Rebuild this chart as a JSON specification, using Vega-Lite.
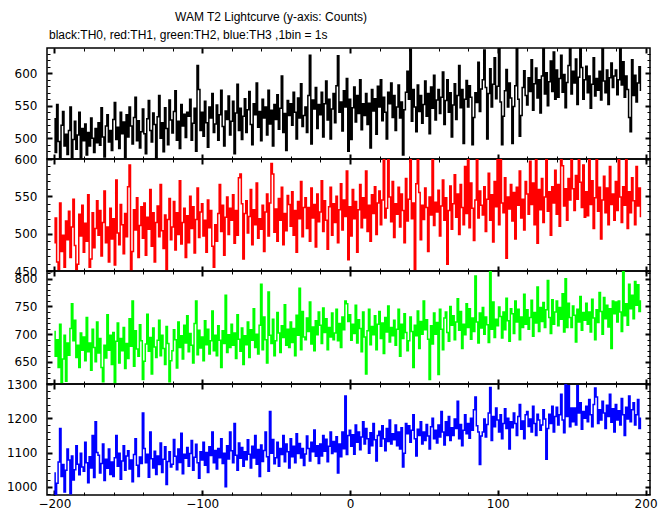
{
"$schema":"https://vega.github.io/schema/vega-lite/v6.json",
"background":"white",
"padding":{"left":5,"right":5,"top":11,"bottom":5},
"title":{"text":"WAM T2 Lightcurve (y-axis: Counts)","anchor":"start","frame":"group","dx":128,"offset":4,"font":"Liberation Sans","fontSize":12,"fontWeight":"normal","color":"black"},
"datasets":{"lc":[
{"t":-200,"a":530,"b":488,"c":705,"d":1040},{"t":-199,"a":478,"b":521,"c":660,"d":978},{"t":-198,"a":552,"b":462,"c":690,"d":1010},{"t":-197,"a":495,"b":452,"c":640,"d":1072},{"t":-196,"a":470,"b":541,"c":718,"d":1170},{"t":-195,"a":520,"b":476,"c":612,"d":1030},{"t":-194,"a":541,"b":498,"c":655,"d":1065},{"t":-193,"a":488,"b":455,"c":698,"d":985},{"t":-192,"a":506,"b":517,"c":615,"d":1048},{"t":-191,"a":475,"b":492,"c":684,"d":1110},
{"t":-190,"a":512,"b":530,"c":662,"d":1078},{"t":-189,"a":548,"b":468,"c":710,"d":980},{"t":-188,"a":470,"b":509,"c":755,"d":1090},{"t":-187,"a":498,"b":546,"c":688,"d":1020},{"t":-186,"a":526,"b":484,"c":725,"d":1050},{"t":-185,"a":483,"b":452,"c":658,"d":1120},{"t":-184,"a":505,"b":459,"c":680,"d":1066},{"t":-183,"a":540,"b":526,"c":640,"d":1035},{"t":-182,"a":467,"b":497,"c":702,"d":1098},{"t":-181,"a":515,"b":538,"c":671,"d":1058},
{"t":-180,"a":496,"b":475,"c":695,"d":1045},{"t":-179,"a":522,"b":514,"c":652,"d":1130},{"t":-178,"a":474,"b":490,"c":730,"d":1070},{"t":-177,"a":509,"b":552,"c":668,"d":1012},{"t":-176,"a":488,"b":455,"c":684,"d":1088},{"t":-175,"a":531,"b":466,"c":635,"d":1055},{"t":-174,"a":500,"b":528,"c":709,"d":1150},{"t":-173,"a":478,"b":481,"c":676,"d":1027},{"t":-172,"a":515,"b":507,"c":650,"d":1190},{"t":-171,"a":493,"b":544,"c":722,"d":1100},
{"t":-170,"a":524,"b":498,"c":666,"d":1092},{"t":-169,"a":489,"b":531,"c":692,"d":1040},{"t":-168,"a":547,"b":470,"c":640,"d":1068},{"t":-167,"a":502,"b":515,"c":614,"d":1125},{"t":-166,"a":471,"b":557,"c":680,"d":1018},{"t":-165,"a":519,"b":488,"c":657,"d":1080},{"t":-164,"a":536,"b":509,"c":735,"d":1054},{"t":-163,"a":494,"b":462,"c":671,"d":1110},{"t":-162,"a":512,"b":534,"c":698,"d":1036},{"t":-161,"a":481,"b":493,"c":645,"d":1072},
{"t":-160,"a":529,"b":520,"c":703,"d":1030},{"t":-159,"a":555,"b":458,"c":612,"d":1085},{"t":-158,"a":498,"b":572,"c":687,"d":1150},{"t":-157,"a":517,"b":501,"c":720,"d":1060},{"t":-156,"a":484,"b":485,"c":648,"d":1098},{"t":-155,"a":540,"b":539,"c":692,"d":1022},{"t":-154,"a":507,"b":512,"c":670,"d":1075},{"t":-153,"a":525,"b":473,"c":712,"d":1120},{"t":-152,"a":470,"b":527,"c":638,"d":1048},{"t":-151,"a":536,"b":496,"c":683,"d":1090},
{"t":-150,"a":502,"b":563,"c":656,"d":1105},{"t":-149,"a":548,"b":592,"c":728,"d":1052},{"t":-148,"a":519,"b":451,"c":678,"d":1078},{"t":-147,"a":491,"b":476,"c":760,"d":1015},{"t":-146,"a":532,"b":532,"c":642,"d":1094},{"t":-145,"a":563,"b":505,"c":706,"d":1140},{"t":-144,"a":496,"b":548,"c":673,"d":1063},{"t":-143,"a":527,"b":468,"c":660,"d":1030},{"t":-142,"a":485,"b":511,"c":717,"d":1087},{"t":-141,"a":510,"b":536,"c":688,"d":1068},
{"t":-140,"a":545,"b":494,"c":618,"d":1215},{"t":-139,"a":507,"b":541,"c":651,"d":1112},{"t":-138,"a":476,"b":471,"c":682,"d":1070},{"t":-137,"a":530,"b":522,"c":736,"d":1095},{"t":-136,"a":558,"b":506,"c":669,"d":1028},{"t":-135,"a":512,"b":559,"c":694,"d":1160},{"t":-134,"a":494,"b":483,"c":628,"d":1082},{"t":-133,"a":539,"b":528,"c":711,"d":1055},{"t":-132,"a":521,"b":462,"c":677,"d":1104},{"t":-131,"a":468,"b":515,"c":658,"d":1036},
{"t":-130,"a":533,"b":537,"c":689,"d":1090},{"t":-129,"a":566,"b":496,"c":725,"d":1065},{"t":-128,"a":500,"b":566,"c":661,"d":1128},{"t":-127,"a":524,"b":504,"c":698,"d":1042},{"t":-126,"a":479,"b":480,"c":674,"d":1080},{"t":-125,"a":547,"b":525,"c":645,"d":1117},{"t":-124,"a":515,"b":452,"c":714,"d":1007},{"t":-123,"a":490,"b":519,"c":683,"d":1074},{"t":-122,"a":559,"b":547,"c":614,"d":1102},{"t":-121,"a":528,"b":492,"c":652,"d":1058},
{"t":-120,"a":508,"b":509,"c":670,"d":1066},{"t":-119,"a":541,"b":543,"c":708,"d":1138},{"t":-118,"a":573,"b":478,"c":690,"d":1089},{"t":-117,"a":497,"b":528,"c":639,"d":1050},{"t":-116,"a":526,"b":499,"c":722,"d":1110},{"t":-115,"a":484,"b":571,"c":676,"d":1071},{"t":-114,"a":552,"b":486,"c":697,"d":1156},{"t":-113,"a":519,"b":515,"c":655,"d":1038},{"t":-112,"a":537,"b":534,"c":716,"d":1095},{"t":-111,"a":501,"b":468,"c":684,"d":1083},
{"t":-110,"a":540,"b":524,"c":733,"d":1115},{"t":-109,"a":534,"b":488,"c":668,"d":1060},{"t":-108,"a":560,"b":550,"c":701,"d":1097},{"t":-107,"a":497,"b":507,"c":680,"d":1135},{"t":-106,"a":523,"b":536,"c":648,"d":1048},{"t":-105,"a":546,"b":474,"c":719,"d":1086},{"t":-104,"a":480,"b":519,"c":760,"d":1124},{"t":-103,"a":612,"b":561,"c":663,"d":1070},{"t":-102,"a":575,"b":495,"c":707,"d":1025},{"t":-101,"a":512,"b":529,"c":675,"d":1102},
{"t":-100,"a":540,"b":540,"c":695,"d":1078},{"t":-99,"a":503,"b":497,"c":652,"d":1130},{"t":-98,"a":557,"b":518,"c":724,"d":1063},{"t":-97,"a":524,"b":475,"c":681,"d":1100},{"t":-96,"a":486,"b":545,"c":709,"d":1042},{"t":-95,"a":548,"b":508,"c":664,"d":1117},{"t":-94,"a":531,"b":531,"c":688,"d":1091},{"t":-93,"a":569,"b":483,"c":742,"d":1160},{"t":-92,"a":509,"b":455,"c":670,"d":1070},{"t":-91,"a":522,"b":512,"c":698,"d":1106},
{"t":-90,"a":551,"b":490,"c":661,"d":1052},{"t":-89,"a":497,"b":527,"c":715,"d":1112},{"t":-88,"a":536,"b":566,"c":689,"d":1085},{"t":-87,"a":574,"b":503,"c":640,"d":1140},{"t":-86,"a":518,"b":538,"c":706,"d":1068},{"t":-85,"a":488,"b":471,"c":683,"d":1098},{"t":-84,"a":542,"b":522,"c":770,"d":1000},{"t":-83,"a":529,"b":549,"c":667,"d":1120},{"t":-82,"a":565,"b":499,"c":699,"d":1081},{"t":-81,"a":505,"b":534,"c":676,"d":1160},
{"t":-80,"a":526,"b":518,"c":718,"d":1105},{"t":-79,"a":557,"b":552,"c":680,"d":1070},{"t":-78,"a":476,"b":487,"c":702,"d":1185},{"t":-77,"a":539,"b":531,"c":656,"d":1092},{"t":-76,"a":583,"b":498,"c":735,"d":1048},{"t":-75,"a":512,"b":575,"c":691,"d":1128},{"t":-74,"a":546,"b":580,"c":669,"d":1083},{"t":-73,"a":498,"b":540,"c":711,"d":1115},{"t":-72,"a":534,"b":466,"c":645,"d":1060},{"t":-71,"a":561,"b":527,"c":697,"d":1102},
{"t":-70,"a":509,"b":544,"c":681,"d":1079},{"t":-69,"a":544,"b":501,"c":722,"d":1137},{"t":-68,"a":572,"b":523,"c":658,"d":1095},{"t":-67,"a":521,"b":559,"c":708,"d":1055},{"t":-66,"a":490,"b":485,"c":689,"d":1118},{"t":-65,"a":553,"b":532,"c":746,"d":1084},{"t":-64,"a":536,"b":512,"c":676,"d":1150},{"t":-63,"a":585,"b":568,"c":700,"d":1066},{"t":-62,"a":517,"b":494,"c":664,"d":1109},{"t":-61,"a":541,"b":520,"c":716,"d":1030},
{"t":-60,"a":496,"b":506,"c":790,"d":1122},{"t":-59,"a":560,"b":538,"c":672,"d":1074},{"t":-58,"a":531,"b":476,"c":731,"d":1106},{"t":-57,"a":548,"b":529,"c":690,"d":1160},{"t":-56,"a":505,"b":553,"c":648,"d":1088},{"t":-55,"a":574,"b":497,"c":776,"d":1045},{"t":-54,"a":522,"b":541,"c":698,"d":1220},{"t":-53,"a":543,"b":594,"c":683,"d":1098},{"t":-52,"a":488,"b":580,"c":727,"d":1138},{"t":-51,"a":552,"b":502,"c":661,"d":1067},
{"t":-50,"a":529,"b":533,"c":688,"d":1085},{"t":-49,"a":567,"b":490,"c":739,"d":1130},{"t":-48,"a":514,"b":547,"c":702,"d":1060},{"t":-47,"a":546,"b":518,"c":667,"d":1112},{"t":-46,"a":596,"b":562,"c":715,"d":1094},{"t":-45,"a":509,"b":485,"c":694,"d":1150},{"t":-44,"a":538,"b":527,"c":753,"d":1073},{"t":-43,"a":481,"b":504,"c":680,"d":1125},{"t":-42,"a":558,"b":551,"c":709,"d":1102},{"t":-41,"a":535,"b":539,"c":676,"d":1055},
{"t":-40,"a":553,"b":510,"c":722,"d":1140},{"t":-39,"a":520,"b":556,"c":685,"d":1088},{"t":-38,"a":571,"b":498,"c":710,"d":1118},{"t":-37,"a":540,"b":531,"c":661,"d":1070},{"t":-36,"a":499,"b":475,"c":734,"d":1155},{"t":-35,"a":562,"b":543,"c":698,"d":1097},{"t":-34,"a":531,"b":520,"c":783,"d":1126},{"t":-33,"a":584,"b":570,"c":672,"d":1084},{"t":-32,"a":518,"b":496,"c":741,"d":1112},{"t":-31,"a":535,"b":535,"c":695,"d":1062},
{"t":-30,"a":548,"b":548,"c":690,"d":1096},{"t":-29,"a":509,"b":507,"c":729,"d":1148},{"t":-28,"a":566,"b":535,"c":705,"d":1112},{"t":-27,"a":628,"b":490,"c":758,"d":1075},{"t":-26,"a":491,"b":561,"c":682,"d":1130},{"t":-25,"a":559,"b":521,"c":713,"d":1102},{"t":-24,"a":545,"b":539,"c":670,"d":1166},{"t":-23,"a":578,"b":482,"c":724,"d":1089},{"t":-22,"a":515,"b":553,"c":699,"d":1120},{"t":-21,"a":552,"b":516,"c":740,"d":1068},
{"t":-20,"a":536,"b":529,"c":716,"d":1125},{"t":-19,"a":571,"b":571,"c":683,"d":1090},{"t":-18,"a":502,"b":503,"c":747,"d":1150},{"t":-17,"a":553,"b":544,"c":703,"d":1104},{"t":-16,"a":588,"b":518,"c":728,"d":1139},{"t":-15,"a":528,"b":479,"c":672,"d":1073},{"t":-14,"a":560,"b":536,"c":712,"d":1118},{"t":-13,"a":499,"b":562,"c":695,"d":1160},{"t":-12,"a":545,"b":498,"c":738,"d":1097},{"t":-11,"a":569,"b":540,"c":690,"d":1132},
{"t":-10,"a":524,"b":515,"c":702,"d":1102},{"t":-9,"a":581,"b":550,"c":745,"d":1146},{"t":-8,"a":627,"b":488,"c":688,"d":1040},{"t":-7,"a":540,"b":532,"c":719,"d":1125},{"t":-6,"a":556,"b":567,"c":676,"d":1088},{"t":-5,"a":511,"b":505,"c":731,"d":1160},{"t":-4,"a":573,"b":545,"c":708,"d":1111},{"t":-3,"a":548,"b":523,"c":760,"d":1265},{"t":-2,"a":592,"b":584,"c":755,"d":1094},{"t":-1,"a":480,"b":465,"c":723,"d":1150},
{"t":0,"a":560,"b":536,"c":735,"d":1165},{"t":1,"a":498,"b":497,"c":689,"d":1118},{"t":2,"a":547,"b":559,"c":718,"d":1152},{"t":3,"a":579,"b":520,"c":701,"d":1095},{"t":4,"a":525,"b":543,"c":752,"d":1180},{"t":5,"a":566,"b":475,"c":684,"d":1130},{"t":6,"a":538,"b":532,"c":726,"d":1160},{"t":7,"a":590,"b":566,"c":710,"d":1108},{"t":8,"a":513,"b":508,"c":668,"d":1145},{"t":9,"a":553,"b":548,"c":740,"d":1190},
{"t":10,"a":535,"b":521,"c":695,"d":1125},{"t":11,"a":569,"b":584,"c":628,"d":1170},{"t":12,"a":521,"b":503,"c":706,"d":1140},{"t":13,"a":554,"b":538,"c":745,"d":1098},{"t":14,"a":485,"b":490,"c":681,"d":1158},{"t":15,"a":575,"b":552,"c":714,"d":1120},{"t":16,"a":542,"b":527,"c":699,"d":1185},{"t":17,"a":561,"b":563,"c":733,"d":1137},{"t":18,"a":506,"b":499,"c":672,"d":1075},{"t":19,"a":580,"b":541,"c":718,"d":1150},
{"t":20,"a":548,"b":557,"c":741,"d":1162},{"t":21,"a":590,"b":512,"c":692,"d":1118},{"t":22,"a":527,"b":545,"c":720,"d":1178},{"t":23,"a":563,"b":600,"c":665,"d":1140},{"t":24,"a":540,"b":521,"c":730,"d":1105},{"t":25,"a":499,"b":534,"c":704,"d":1170},{"t":26,"a":571,"b":600,"c":751,"d":1132},{"t":27,"a":553,"b":549,"c":686,"d":1195},{"t":28,"a":585,"b":516,"c":712,"d":1125},{"t":29,"a":532,"b":570,"c":697,"d":1155},
{"t":30,"a":566,"b":495,"c":725,"d":1137},{"t":31,"a":512,"b":540,"c":680,"d":1180},{"t":32,"a":548,"b":526,"c":709,"d":1120},{"t":33,"a":582,"b":562,"c":745,"d":1160},{"t":34,"a":531,"b":509,"c":660,"d":1110},{"t":35,"a":556,"b":553,"c":718,"d":1172},{"t":36,"a":474,"b":531,"c":692,"d":1058},{"t":37,"a":544,"b":488,"c":737,"d":1098},{"t":38,"a":571,"b":574,"c":703,"d":1185},{"t":39,"a":603,"b":517,"c":670,"d":1155},
{"t":40,"a":560,"b":546,"c":688,"d":1178},{"t":41,"a":637,"b":600,"c":731,"d":1130},{"t":42,"a":526,"b":520,"c":705,"d":1165},{"t":43,"a":575,"b":541,"c":640,"d":1210},{"t":44,"a":548,"b":452,"c":716,"d":1140},{"t":45,"a":510,"b":567,"c":697,"d":1090},{"t":46,"a":582,"b":600,"c":742,"d":1168},{"t":47,"a":541,"b":555,"c":674,"d":1150},{"t":48,"a":566,"b":492,"c":723,"d":1190},{"t":49,"a":523,"b":538,"c":700,"d":1125},
{"t":50,"a":552,"b":519,"c":760,"d":1160},{"t":51,"a":588,"b":561,"c":708,"d":1135},{"t":52,"a":534,"b":535,"c":726,"d":1182},{"t":53,"a":569,"b":476,"c":691,"d":1148},{"t":54,"a":507,"b":549,"c":618,"d":1110},{"t":55,"a":579,"b":525,"c":715,"d":1175},{"t":56,"a":546,"b":600,"c":682,"d":1200},{"t":57,"a":597,"b":511,"c":738,"d":1140},{"t":58,"a":528,"b":542,"c":700,"d":1165},{"t":59,"a":559,"b":529,"c":721,"d":1128},
{"t":60,"a":575,"b":558,"c":627,"d":1180},{"t":61,"a":538,"b":497,"c":745,"d":1145},{"t":62,"a":563,"b":537,"c":709,"d":1220},{"t":63,"a":602,"b":572,"c":672,"d":1160},{"t":64,"a":521,"b":518,"c":729,"d":1122},{"t":65,"a":558,"b":548,"c":740,"d":1190},{"t":66,"a":590,"b":459,"c":703,"d":1150},{"t":67,"a":540,"b":531,"c":687,"d":1205},{"t":68,"a":570,"b":564,"c":750,"d":1135},{"t":69,"a":502,"b":506,"c":716,"d":1172},
{"t":70,"a":551,"b":540,"c":733,"d":1150},{"t":71,"a":584,"b":579,"c":690,"d":1198},{"t":72,"a":529,"b":522,"c":722,"d":1170},{"t":73,"a":566,"b":553,"c":764,"d":1250},{"t":74,"a":612,"b":499,"c":707,"d":1140},{"t":75,"a":547,"b":566,"c":741,"d":1182},{"t":76,"a":575,"b":535,"c":674,"d":1120},{"t":77,"a":492,"b":512,"c":718,"d":1165},{"t":78,"a":560,"b":590,"c":699,"d":1210},{"t":79,"a":589,"b":527,"c":755,"d":1155},
{"t":80,"a":548,"b":600,"c":712,"d":1185},{"t":81,"a":581,"b":508,"c":746,"d":1142},{"t":82,"a":563,"b":568,"c":691,"d":1200},{"t":83,"a":490,"b":534,"c":729,"d":1165},{"t":84,"a":532,"b":491,"c":705,"d":1225},{"t":85,"a":570,"b":545,"c":805,"d":1262},{"t":86,"a":555,"b":600,"c":722,"d":1178},{"t":87,"a":617,"b":521,"c":684,"d":1160},{"t":88,"a":541,"b":557,"c":738,"d":1065},{"t":89,"a":576,"b":538,"c":711,"d":1148},
{"t":90,"a":590,"b":525,"c":748,"d":1160},{"t":91,"a":636,"b":563,"c":700,"d":1198},{"t":92,"a":578,"b":503,"c":731,"d":1145},{"t":93,"a":499,"b":546,"c":717,"d":1182},{"t":94,"a":569,"b":581,"c":685,"d":1215},{"t":95,"a":607,"b":518,"c":814,"d":1290},{"t":96,"a":548,"b":552,"c":709,"d":1135},{"t":97,"a":583,"b":489,"c":758,"d":1205},{"t":98,"a":624,"b":570,"c":694,"d":1175},{"t":99,"a":561,"b":536,"c":727,"d":1230},
{"t":100,"a":580,"b":600,"c":715,"d":1195},{"t":101,"a":641,"b":512,"c":749,"d":1160},{"t":102,"a":556,"b":600,"c":732,"d":1210},{"t":103,"a":490,"b":541,"c":693,"d":1140},{"t":104,"a":534,"b":528,"c":740,"d":1185},{"t":105,"a":573,"b":575,"c":708,"d":1228},{"t":106,"a":606,"b":467,"c":765,"d":1170},{"t":107,"a":548,"b":549,"c":724,"d":1200},{"t":108,"a":585,"b":533,"c":687,"d":1110},{"t":109,"a":562,"b":566,"c":746,"d":1190},
{"t":110,"a":492,"b":517,"c":737,"d":1172},{"t":111,"a":549,"b":555,"c":701,"d":1215},{"t":112,"a":581,"b":493,"c":760,"d":1185},{"t":113,"a":640,"b":562,"c":722,"d":1150},{"t":114,"a":560,"b":538,"c":745,"d":1205},{"t":115,"a":503,"b":584,"c":690,"d":1240},{"t":116,"a":535,"b":521,"c":731,"d":1168},{"t":117,"a":578,"b":546,"c":712,"d":1192},{"t":118,"a":604,"b":505,"c":772,"d":1140},{"t":119,"a":566,"b":570,"c":718,"d":1210},
{"t":120,"a":551,"b":553,"c":744,"d":1220},{"t":121,"a":593,"b":526,"c":709,"d":1176},{"t":122,"a":572,"b":597,"c":730,"d":1198},{"t":123,"a":621,"b":539,"c":761,"d":1160},{"t":124,"a":543,"b":568,"c":696,"d":1235},{"t":125,"a":584,"b":512,"c":739,"d":1185},{"t":126,"a":608,"b":600,"c":720,"d":1150},{"t":127,"a":562,"b":487,"c":785,"d":1212},{"t":128,"a":590,"b":559,"c":705,"d":1195},{"t":129,"a":539,"b":532,"c":748,"d":1165},
{"t":130,"a":596,"b":574,"c":723,"d":1180},{"t":131,"a":640,"b":515,"c":757,"d":1225},{"t":132,"a":568,"b":549,"c":712,"d":1198},{"t":133,"a":601,"b":600,"c":744,"d":1080},{"t":134,"a":550,"b":530,"c":797,"d":1170},{"t":135,"a":587,"b":556,"c":730,"d":1212},{"t":136,"a":619,"b":498,"c":701,"d":1185},{"t":137,"a":572,"b":563,"c":762,"d":1235},{"t":138,"a":633,"b":541,"c":718,"d":1160},{"t":139,"a":560,"b":585,"c":740,"d":1205},
{"t":140,"a":605,"b":526,"c":760,"d":1232},{"t":141,"a":563,"b":566,"c":715,"d":1180},{"t":142,"a":592,"b":510,"c":748,"d":1210},{"t":143,"a":628,"b":600,"c":727,"d":1270},{"t":144,"a":571,"b":591,"c":773,"d":1195},{"t":145,"a":598,"b":537,"c":704,"d":1158},{"t":146,"a":547,"b":560,"c":800,"d":1298},{"t":147,"a":586,"b":518,"c":712,"d":1205},{"t":148,"a":612,"b":574,"c":756,"d":1295},{"t":149,"a":640,"b":545,"c":730,"d":1175},
{"t":150,"a":568,"b":600,"c":712,"d":1230},{"t":151,"a":603,"b":560,"c":751,"d":1190},{"t":152,"a":585,"b":531,"c":734,"d":1230},{"t":153,"a":622,"b":578,"c":686,"d":1180},{"t":154,"a":552,"b":546,"c":745,"d":1295},{"t":155,"a":594,"b":600,"c":722,"d":1215},{"t":156,"a":640,"b":569,"c":768,"d":1245},{"t":157,"a":609,"b":535,"c":707,"d":1168},{"t":158,"a":560,"b":592,"c":739,"d":1220},{"t":159,"a":590,"b":522,"c":725,"d":1200},
{"t":160,"a":611,"b":556,"c":756,"d":1235},{"t":161,"a":570,"b":524,"c":718,"d":1190},{"t":162,"a":596,"b":600,"c":740,"d":1255},{"t":163,"a":546,"b":539,"c":704,"d":1210},{"t":164,"a":583,"b":571,"c":763,"d":1175},{"t":165,"a":624,"b":507,"c":729,"d":1240},{"t":166,"a":565,"b":548,"c":690,"d":1288},{"t":167,"a":592,"b":600,"c":744,"d":1262},{"t":168,"a":574,"b":530,"c":721,"d":1185},{"t":169,"a":603,"b":562,"c":775,"d":1225},
{"t":170,"a":559,"b":493,"c":741,"d":1195},{"t":171,"a":641,"b":545,"c":700,"d":1250},{"t":172,"a":588,"b":577,"c":766,"d":1215},{"t":173,"a":570,"b":528,"c":728,"d":1170},{"t":174,"a":605,"b":561,"c":752,"d":1238},{"t":175,"a":552,"b":512,"c":713,"d":1205},{"t":176,"a":593,"b":590,"c":746,"d":1270},{"t":177,"a":616,"b":539,"c":674,"d":1188},{"t":178,"a":578,"b":553,"c":760,"d":1228},{"t":179,"a":596,"b":518,"c":737,"d":1160},
{"t":180,"a":605,"b":570,"c":758,"d":1240},{"t":181,"a":567,"b":531,"c":722,"d":1195},{"t":182,"a":590,"b":600,"c":760,"d":1222},{"t":183,"a":638,"b":549,"c":740,"d":1180},{"t":184,"a":582,"b":515,"c":705,"d":1258},{"t":185,"a":618,"b":563,"c":814,"d":1210},{"t":186,"a":563,"b":538,"c":733,"d":1150},{"t":187,"a":596,"b":600,"c":755,"d":1232},{"t":188,"a":575,"b":507,"c":716,"d":1198},{"t":189,"a":532,"b":556,"c":790,"d":1265},
{"t":190,"a":510,"b":528,"c":746,"d":1190},{"t":191,"a":621,"b":575,"c":770,"d":1225},{"t":192,"a":566,"b":544,"c":728,"d":1245},{"t":193,"a":597,"b":512,"c":795,"d":1180},{"t":194,"a":556,"b":590,"c":752,"d":1210},{"t":195,"a":585,"b":537,"c":789,"d":1255},{"t":196,"a":610,"b":561,"c":741,"d":1170},{"t":197,"a":574,"b":523,"c":760,"d":1200}
]},
"bounds":"flush",
"spacing":0,
"vconcat":[
{"width":603,"height":111,"data":{"name":"lc"},
 "title":{"text":"black:TH0, red:TH1, green:TH2, blue:TH3 ,1bin = 1s","anchor":"start","frame":"group","dx":2,"offset":5,"font":"Liberation Sans","fontSize":12,"fontWeight":"normal","color":"black"},
 "encoding":{"x":{"field":"t","type":"quantitative","scale":{"domain":[-205,203],"nice":false,"zero":false}},
             "y":{"field":"a","type":"quantitative","scale":{"domain":[468,639],"nice":false,"zero":false}}},
 "layer":[
  {"mark":{"type":"line","color":"#000000","strokeWidth":1.5,"interpolate":"step","clip":true},
   "encoding":{"x":{"field":"t","type":"quantitative","axis":{"orient":"bottom","values":[-200,-100,0,100,200],"tickSize":-5,"tickWidth":2,"labels":false,"title":null}},
               "y":{"field":"a","type":"quantitative","axis":{"orient":"left","values":[500,550,600],"format":"d","tickSize":-5,"tickWidth":2,"labelPadding":15,"title":null}}}},
  {"mark":{"type":"line","opacity":0,"clip":true},
   "encoding":{"x":{"field":"t","type":"quantitative","axis":{"orient":"bottom","values":[-200,-180,-160,-140,-120,-100,-80,-60,-40,-20,0,20,40,60,80,100,120,140,160,180,200],"tickSize":-3,"tickWidth":1,"labels":false,"title":null}},
               "y":{"field":"a","type":"quantitative","axis":{"orient":"left","values":[470,480,490,500,510,520,530,540,550,560,570,580,590,600,610,620,630],"tickSize":-3,"tickWidth":1,"labels":false,"title":null}}}},
  {"mark":{"type":"line","opacity":0,"clip":true},
   "encoding":{"x":{"field":"t","type":"quantitative","axis":{"orient":"top","values":[-200,-100,0,100,200],"tickSize":-5,"tickWidth":2,"labels":false,"title":null}},
               "y":{"field":"a","type":"quantitative","axis":{"orient":"right","values":[500,550,600],"tickSize":-5,"tickWidth":2,"labels":false,"title":null}}}},
  {"mark":{"type":"line","opacity":0,"clip":true},
   "encoding":{"x":{"field":"t","type":"quantitative","axis":{"orient":"top","values":[-200,-180,-160,-140,-120,-100,-80,-60,-40,-20,0,20,40,60,80,100,120,140,160,180,200],"tickSize":-3,"tickWidth":1,"labels":false,"title":null}},
               "y":{"field":"a","type":"quantitative","axis":{"orient":"right","values":[470,480,490,500,510,520,530,540,550,560,570,580,590,600,610,620,630],"tickSize":-3,"tickWidth":1,"labels":false,"title":null}}}}
 ],
 "resolve":{"axis":{"x":"independent","y":"independent"}}},
{"width":603,"height":112,"data":{"name":"lc"},
 "encoding":{"x":{"field":"t","type":"quantitative","scale":{"domain":[-205,203],"nice":false,"zero":false}},
             "y":{"field":"b","type":"quantitative","scale":{"domain":[450,600],"nice":false,"zero":false}}},
 "layer":[
  {"mark":{"type":"line","color":"#ff0000","strokeWidth":1.5,"interpolate":"step","clip":true},
   "encoding":{"x":{"field":"t","type":"quantitative","axis":{"orient":"bottom","values":[-200,-100,0,100,200],"tickSize":-5,"tickWidth":2,"labels":false,"title":null}},
               "y":{"field":"b","type":"quantitative","axis":{"orient":"left","values":[450,500,550,600],"format":"d","tickSize":-5,"tickWidth":2,"labelPadding":15,"title":null}}}},
  {"mark":{"type":"line","opacity":0,"clip":true},
   "encoding":{"x":{"field":"t","type":"quantitative","axis":{"orient":"bottom","values":[-200,-180,-160,-140,-120,-100,-80,-60,-40,-20,0,20,40,60,80,100,120,140,160,180,200],"tickSize":-3,"tickWidth":1,"labels":false,"title":null}},
               "y":{"field":"b","type":"quantitative","axis":{"orient":"left","values":[460,470,480,490,510,520,530,540,560,570,580,590],"tickSize":-3,"tickWidth":1,"labels":false,"title":null}}}},
  {"mark":{"type":"line","opacity":0,"clip":true},
   "encoding":{"x":{"field":"t","type":"quantitative","axis":{"orient":"top","values":[-200,-100,0,100,200],"tickSize":-5,"tickWidth":2,"labels":false,"title":null}},
               "y":{"field":"b","type":"quantitative","axis":{"orient":"right","values":[450,500,550,600],"tickSize":-5,"tickWidth":2,"labels":false,"title":null}}}},
  {"mark":{"type":"line","opacity":0,"clip":true},
   "encoding":{"x":{"field":"t","type":"quantitative","axis":{"orient":"top","values":[-200,-180,-160,-140,-120,-100,-80,-60,-40,-20,0,20,40,60,80,100,120,140,160,180,200],"tickSize":-3,"tickWidth":1,"labels":false,"title":null}},
               "y":{"field":"b","type":"quantitative","axis":{"orient":"right","values":[460,470,480,490,510,520,530,540,560,570,580,590],"tickSize":-3,"tickWidth":1,"labels":false,"title":null}}}}
 ],
 "resolve":{"axis":{"x":"independent","y":"independent"}}},
{"width":603,"height":113,"data":{"name":"lc"},
 "encoding":{"x":{"field":"t","type":"quantitative","scale":{"domain":[-205,203],"nice":false,"zero":false}},
             "y":{"field":"c","type":"quantitative","scale":{"domain":[610,814],"nice":false,"zero":false}}},
 "layer":[
  {"mark":{"type":"line","color":"#00ff00","strokeWidth":1.5,"interpolate":"step","clip":true},
   "encoding":{"x":{"field":"t","type":"quantitative","axis":{"orient":"bottom","values":[-200,-100,0,100,200],"tickSize":-5,"tickWidth":2,"labels":false,"title":null}},
               "y":{"field":"c","type":"quantitative","axis":{"orient":"left","values":[650,700,750,800],"format":"d","tickSize":-5,"tickWidth":2,"labelPadding":15,"title":null}}}},
  {"mark":{"type":"line","opacity":0,"clip":true},
   "encoding":{"x":{"field":"t","type":"quantitative","axis":{"orient":"bottom","values":[-200,-180,-160,-140,-120,-100,-80,-60,-40,-20,0,20,40,60,80,100,120,140,160,180,200],"tickSize":-3,"tickWidth":1,"labels":false,"title":null}},
               "y":{"field":"c","type":"quantitative","axis":{"orient":"left","values":[620,630,640,660,670,680,690,710,720,730,740,760,770,780,790,810],"tickSize":-3,"tickWidth":1,"labels":false,"title":null}}}},
  {"mark":{"type":"line","opacity":0,"clip":true},
   "encoding":{"x":{"field":"t","type":"quantitative","axis":{"orient":"top","values":[-200,-100,0,100,200],"tickSize":-5,"tickWidth":2,"labels":false,"title":null}},
               "y":{"field":"c","type":"quantitative","axis":{"orient":"right","values":[650,700,750,800],"tickSize":-5,"tickWidth":2,"labels":false,"title":null}}}},
  {"mark":{"type":"line","opacity":0,"clip":true},
   "encoding":{"x":{"field":"t","type":"quantitative","axis":{"orient":"top","values":[-200,-180,-160,-140,-120,-100,-80,-60,-40,-20,0,20,40,60,80,100,120,140,160,180,200],"tickSize":-3,"tickWidth":1,"labels":false,"title":null}},
               "y":{"field":"c","type":"quantitative","axis":{"orient":"right","values":[620,630,640,660,670,680,690,710,720,730,740,760,770,780,790,810],"tickSize":-3,"tickWidth":1,"labels":false,"title":null}}}}
 ],
 "resolve":{"axis":{"x":"independent","y":"independent"}}},
{"width":603,"height":111,"data":{"name":"lc"},
 "encoding":{"x":{"field":"t","type":"quantitative","scale":{"domain":[-205,203],"nice":false,"zero":false}},
             "y":{"field":"d","type":"quantitative","scale":{"domain":[976,1300],"nice":false,"zero":false}}},
 "layer":[
  {"mark":{"type":"line","color":"#0000ff","strokeWidth":1.5,"interpolate":"step","clip":true},
   "encoding":{"x":{"field":"t","type":"quantitative","axis":{"orient":"bottom","values":[-200,-100,0,100,200],"format":"d","tickSize":-5,"tickWidth":2,"labels":true,"labelPadding":8,"title":null}},
               "y":{"field":"d","type":"quantitative","axis":{"orient":"left","values":[1000,1100,1200,1300],"format":"d","tickSize":-5,"tickWidth":2,"labelPadding":15,"title":null}}}},
  {"mark":{"type":"line","opacity":0,"clip":true},
   "encoding":{"x":{"field":"t","type":"quantitative","axis":{"orient":"bottom","values":[-200,-180,-160,-140,-120,-100,-80,-60,-40,-20,0,20,40,60,80,100,120,140,160,180,200],"tickSize":-3,"tickWidth":1,"labels":false,"title":null}},
               "y":{"field":"d","type":"quantitative","axis":{"orient":"left","values":[980,1020,1040,1060,1080,1120,1140,1160,1180,1220,1240,1260,1280],"tickSize":-3,"tickWidth":1,"labels":false,"title":null}}}},
  {"mark":{"type":"line","opacity":0,"clip":true},
   "encoding":{"x":{"field":"t","type":"quantitative","axis":{"orient":"top","values":[-200,-100,0,100,200],"tickSize":-5,"tickWidth":2,"labels":false,"title":null}},
               "y":{"field":"d","type":"quantitative","axis":{"orient":"right","values":[1000,1100,1200,1300],"tickSize":-5,"tickWidth":2,"labels":false,"title":null}}}},
  {"mark":{"type":"line","opacity":0,"clip":true},
   "encoding":{"x":{"field":"t","type":"quantitative","axis":{"orient":"top","values":[-200,-180,-160,-140,-120,-100,-80,-60,-40,-20,0,20,40,60,80,100,120,140,160,180,200],"tickSize":-3,"tickWidth":1,"labels":false,"title":null}},
               "y":{"field":"d","type":"quantitative","axis":{"orient":"right","values":[980,1020,1040,1060,1080,1120,1140,1160,1180,1220,1240,1260,1280],"tickSize":-3,"tickWidth":1,"labels":false,"title":null}}}}
 ],
 "resolve":{"axis":{"x":"independent","y":"independent"}}}
],
"config":{
 "view":{"stroke":"#000000","strokeWidth":1.5},
 "axis":{"grid":false,"domain":false,"minExtent":0,"labelFont":"DejaVu Sans","labelFontSize":12,"labelColor":"#000000","tickColor":"#000000","labelFlush":false,"labelOverlap":false}
}
}
